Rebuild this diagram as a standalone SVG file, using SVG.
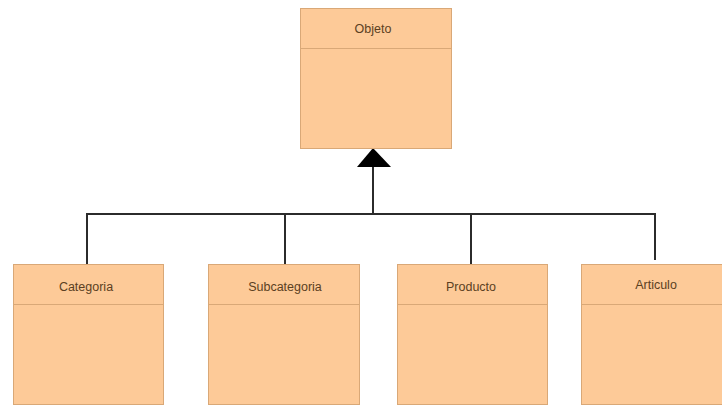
<svg xmlns="http://www.w3.org/2000/svg" width="722" height="405" viewBox="0 0 722 405">
  <style>
    .box { fill: #fdca98; stroke: #d9a877; stroke-width: 1; }
    .div { stroke: #d9a877; stroke-width: 1; }
    .lbl { font-family: "Liberation Sans", Arial, sans-serif; font-size: 12.5px; fill: #5b3f22; text-anchor: middle; }
    .wire { fill: none; stroke: #2b2b2b; stroke-width: 2; }
  </style>
  <rect width="722" height="405" fill="#ffffff"/>

  <g id="connectors">
    <path class="wire" d="M373 166 V214"/>
    <path class="wire" d="M87 264 V214 H655 V260"/>
    <path class="wire" d="M285 264 V214"/>
    <path class="wire" d="M471 264 V214"/>
    <polygon points="373,148 357,167 391,167" fill="#000000"/>
  </g>

  <g id="objeto">
    <rect class="box" x="300.5" y="8.5" width="151" height="140"/>
    <line class="div" x1="300.5" y1="48.5" x2="451.5" y2="48.5"/>
    <text class="lbl" x="373" y="33">Objeto</text>
  </g>

  <g id="categoria">
    <rect class="box" x="13.5" y="264.5" width="150" height="140"/>
    <line class="div" x1="13.5" y1="304.5" x2="163.5" y2="304.5"/>
    <text class="lbl" x="86" y="291">Categoria</text>
  </g>

  <g id="subcategoria">
    <rect class="box" x="208.5" y="264.5" width="151" height="140"/>
    <line class="div" x1="208.5" y1="304.5" x2="359.5" y2="304.5"/>
    <text class="lbl" x="285" y="291">Subcategoria</text>
  </g>

  <g id="producto">
    <rect class="box" x="397.5" y="264.5" width="150" height="140"/>
    <line class="div" x1="397.5" y1="304.5" x2="547.5" y2="304.5"/>
    <text class="lbl" x="471" y="291">Producto</text>
  </g>

  <g id="articulo">
    <rect class="box" x="581.5" y="264.5" width="150" height="140"/>
    <line class="div" x1="581.5" y1="304.5" x2="731.5" y2="304.5"/>
    <text class="lbl" x="656" y="289">Articulo</text>
  </g>
</svg>
